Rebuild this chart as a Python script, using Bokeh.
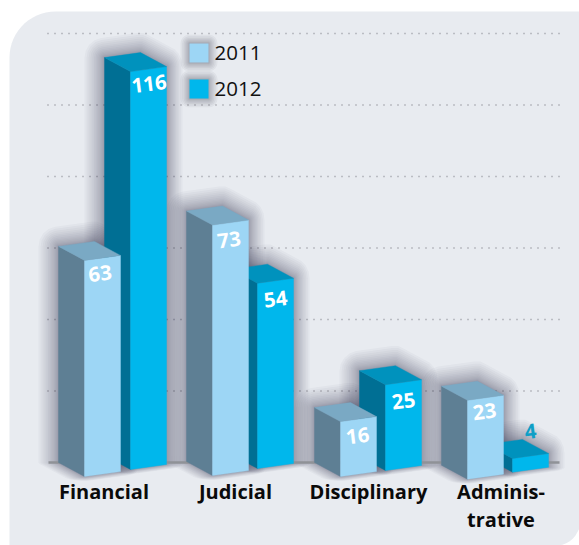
from bokeh.plotting import figure
from bokeh.models import Range1d
from bokeh.core.properties import value
from bokeh.embed import file_html
from bokeh.resources import INLINE
import math

# ---- data
categories = ["Financial", "Judicial", "Disciplinary", "Adminis-\ntrative"]
series_2011 = [63, 73, 16, 23]
series_2012 = [116, 54, 25, 4]
legend_years = ["2011", "2012"]
grid_values = [0, 20, 40, 60, 80, 100, 120]

# ---- layout
W, H = 579, 545
PAD = 0
BASE_PX = 462.0          # page pixel of value 0
UNIT = 3.575             # page pixels per value on the grid scale
BAR_UNIT = 3.43          # page pixels per value on a bar's front edge
BAR_W, DX, DY, SLANT = 36, 26, 14, 5
front_left_2011 = [84, 212, 340, 467]
front_left_2012 = [130, 257, 385, 512]
bottom_2011 = [476, 475, 476, 478.7]
bottom_2012 = [469, 468, 470, 471.7]
label_off_2011 = [(-2.5, 15.5), (-1.5, 17), (-1, 16.5), (-1, 13.5)]
label_off_2012 = [(0.5, 14.5), (0, 18), (0, 18.5), (0, -25)]
C11 = dict(front="#9dd6f5", side="#5e7f94", top="#7aa9c4")
C12 = dict(front="#00b7ec", side="#006f94", top="#0092bd")


def Y(px):
    return (BASE_PX - px) / UNIT


p = figure(width=W, height=H, output_backend="svg", toolbar_location=None,
           x_range=Range1d(PAD, PAD + W), y_range=Range1d(Y(PAD + H), Y(PAD)),
           min_border=0, background_fill_color="white", border_fill_color="white",
           outline_line_color=None)
p.axis.visible = False
p.grid.visible = False

# panel with rounded top-left and bottom-right corners
R = 46
L, T, RGT, B = 9, 11, 600, 545
xs, ys = [], []
for a in range(180, 271, 6):
    t = math.radians(a)
    xs.append(L + R + R * math.cos(t))
    ys.append(T + R + R * math.sin(t))
xs.append(RGT); ys.append(T)
xs.append(RGT); ys.append(B - 0)
xs.append(L); ys.append(B)
p.patch(xs, [Y(v) for v in ys], fill_color="#e8ebf0", line_color=None)
# bottom-right corner cut
cx, cy, r2 = 556, 522, 23
cxs = [579, 579, 560]
cys = [528, 545, 545]
for a in range(85, 15, -10):
    t = math.radians(a)
    cxs.append(cx + r2 * math.cos(t))
    cys.append(cy + r2 * math.sin(t))
p.patch(cxs, [Y(v) for v in cys], fill_color="white", line_color=None)

# dotted grid
gv = [g for g in grid_values if g > 0]
p.segment(x0=[47] * len(gv), x1=[559] * len(gv), y0=gv, y1=gv,
          line_color="#8c8f96", line_width=1.3, line_dash="1 6")


def hull(points):
    pts = sorted(set(points))
    def half(seq):
        out = []
        for q in seq:
            while len(out) >= 2 and ((out[-1][0] - out[-2][0]) * (q[1] - out[-2][1])
                                     - (out[-1][1] - out[-2][1]) * (q[0] - out[-2][0])) <= 0:
                out.pop()
            out.append(q)
        return out[:-1]
    return half(pts) + half(pts[::-1])


def shadow(px_poly, layers=15, alpha=0.03, spread=20.0, down=0.22, right=0.8):
    """Stacked translucent rounded outlines: a soft drop shadow."""
    for i in range(1, layers + 1):
        d = spread * (i / layers) ** 1.6
        cloud = []
        for (qx, qy) in px_poly:
            for a in range(0, 360, 20):
                ox, oy = math.cos(math.radians(a)) * d, math.sin(math.radians(a)) * d
                cloud.append((qx + (ox * right if ox > 0 else ox), qy + (oy * down if oy > 0 else oy)))
        h = hull(cloud)
        p.patch([q[0] for q in h], [Y(q[1]) for q in h], fill_color="#2b2c35",
                fill_alpha=alpha, line_color=None)


def bar_polys(x, bottom, v):
    h = v * BAR_UNIT
    fl_b = (x, bottom); fr_b = (x + BAR_W, bottom - SLANT)
    fl_t = (x, bottom - h); fr_t = (x + BAR_W, bottom - SLANT - h)
    bl_b = (x - DX, bottom - DY); bl_t = (x - DX, bottom - DY - h)
    br_t = (x + BAR_W - DX, bottom - SLANT - DY - h)
    return dict(front=[fl_b, fr_b, fr_t, fl_t], side=[bl_b, fl_b, fl_t, bl_t],
                top=[bl_t, fl_t, fr_t, br_t])


def draw_bar(x, bottom, v, c):
    polys = bar_polys(x, bottom, v)
    for k in ("side", "front", "top"):
        p.patch([q[0] for q in polys[k]], [Y(q[1]) for q in polys[k]],
                fill_color=c[k], line_color=c[k], line_width=0.4)


def outline(x, bottom, v):
    pl = bar_polys(x, bottom, v)
    return [pl["top"][0], pl["top"][3], pl["top"][2], pl["front"][1], pl["front"][0], pl["side"][0]]


# shadows first, then baseline, then bars back to front
for i in range(4):
    shadow(outline(front_left_2012[i], bottom_2012[i], series_2012[i]))
    shadow(outline(front_left_2011[i], bottom_2011[i], series_2011[i]))
p.segment(x0=[48], x1=[559], y0=[0], y1=[0], line_color="#8f9297", line_width=2.6)
for i in range(4):
    draw_bar(front_left_2012[i], bottom_2012[i], series_2012[i], C12)
    draw_bar(front_left_2011[i], bottom_2011[i], series_2011[i], C11)

# value labels
lx, ly, lt, lc = [], [], [], []
for i in range(4):
    for xs_, bs, vs, offs in ((front_left_2011, bottom_2011, series_2011, label_off_2011),
                              (front_left_2012, bottom_2012, series_2012, label_off_2012)):
        v = vs[i]
        cxx = xs_[i] + BAR_W / 2
        top_y = bs[i] - SLANT / 2 - v * BAR_UNIT
        lx.append(cxx + offs[i][0])
        ly.append(Y(top_y + offs[i][1]))
        lt.append(str(v))
        lc.append("white" if v != 4 else "#0f9fc6")
p.text(lx, ly, text=lt, text_color=lc, text_font=value("Open Sans"), text_font_style="bold",
       text_font_size="20.5px", text_align="center", text_baseline="middle", angle=0.12)

# category labels
centers = [103.5, 235, 368, 500.5]
for cname, cxx in zip(categories, centers):
    for j, line in enumerate(cname.split("\n")):
        p.text([cxx], [Y(491 + 28 * j)], text=[line], text_color="#0a0a0a",
               text_font=value("Open Sans"), text_font_style="bold",
               text_font_size="20px", text_align="center", text_baseline="middle")

# legend
for yr, col, top in zip(legend_years, (C11["front"], C12["front"]), (43, 79)):
    shadow([(189, top), (208, top), (208, top + 19), (189, top + 19)], layers=8, alpha=0.05,
           spread=9, down=1.0, right=1.0)
    p.quad(left=[189], right=[208], top=[Y(top)], bottom=[Y(top + 19)], fill_color=col, line_color=None)
    p.text([214], [Y(top + 9.5)], text=[yr], text_color="#111111", text_font=value("Open Sans"),
           text_font_size="20.5px", text_align="left", text_baseline="middle")

open("out.html", "w").write(file_html(p, INLINE))
